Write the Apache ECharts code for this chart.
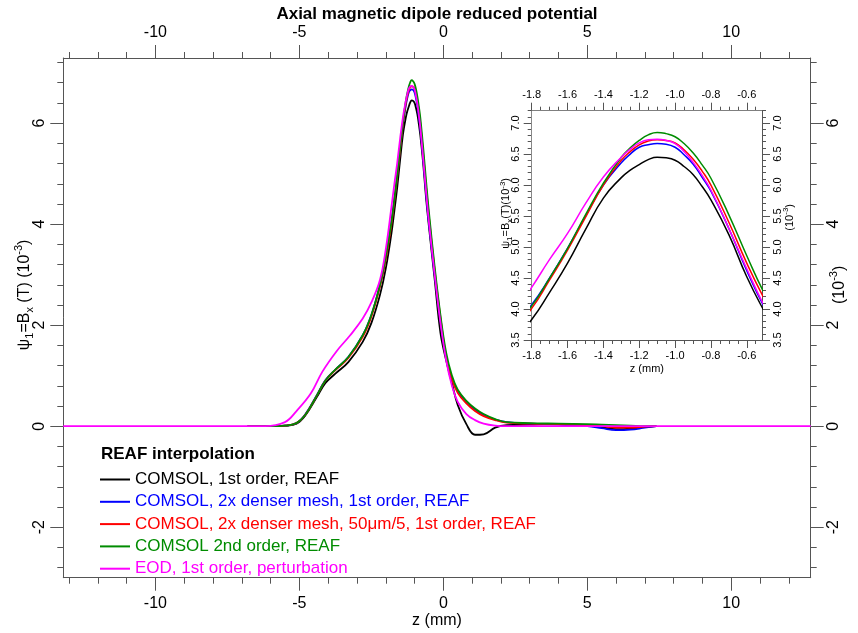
<!DOCTYPE html>
<html><head><meta charset="utf-8">
<script src="https://cdn.jsdelivr.net/npm/echarts@6/dist/echarts.min.js"></script>
<style>html,body{margin:0;padding:0;background:#fff}#c{width:858px;height:633px}</style>
</head><body><div id="c"></div>
<script>
// ---- data (z in mm, psi1 in 1e-3 T) ----
const zComsol = [-6.8,-6.0,-5.5,-5.1,-4.8,-4.4,-4.1,-3.75,-3.3,-2.8,-2.5,-2.2,-2.0,-1.8,-1.7,-1.6,-1.5,-1.4,-1.3,-1.25,-1.2,-1.15,-1.1,-1.05,-1.0,-0.95,-0.9,-0.85,-0.8,-0.7,-0.6,-0.5,-0.3,-0.1,0.1,0.3,0.5,0.8,1.1,1.4,1.8,2.2,3.0,4.0,5.0,5.5,6.0,6.5,7.0,7.4];
const yComsol1st = [0,0,0.01,0.05,0.21,0.57,0.85,1.04,1.27,1.67,2.04,2.6,3.12,3.83,4.27,4.74,5.28,5.79,6.12,6.24,6.33,6.41,6.45,6.44,6.40,6.30,6.17,5.98,5.76,5.2,4.52,3.95,2.9,1.85,1.3,0.85,0.42,0.04,-0.17,-0.16,-0.03,0.02,0.03,0.04,0.02,-0.02,-0.06,-0.05,-0.02,0];
const yDenser1st = [0,0,0.01,0.06,0.23,0.61,0.91,1.12,1.37,1.8,2.2,2.8,3.35,4.07,4.5,4.98,5.5,6.0,6.36,6.5,6.61,6.65,6.67,6.66,6.61,6.49,6.34,6.13,5.9,5.3,4.62,4.02,3.0,2.1,1.35,0.95,0.7,0.48,0.33,0.22,0.13,0.08,0.05,0.03,0.0,-0.04,-0.08,-0.07,-0.03,0];
const yDenser50 = [0,0,0.01,0.06,0.22,0.6,0.9,1.11,1.35,1.77,2.17,2.77,3.3,4.01,4.47,4.95,5.48,6.0,6.4,6.54,6.65,6.71,6.73,6.72,6.68,6.57,6.42,6.23,6.0,5.4,4.74,4.15,3.08,2.15,1.38,0.93,0.66,0.45,0.3,0.2,0.12,0.07,0.05,0.04,0.02,0,-0.03,-0.03,-0.01,0];
const yComsol2nd = [0,0,0.01,0.06,0.22,0.6,0.9,1.12,1.37,1.8,2.2,2.8,3.35,4.05,4.5,4.98,5.52,6.03,6.45,6.60,6.72,6.81,6.85,6.83,6.78,6.67,6.52,6.33,6.11,5.52,4.86,4.24,3.15,2.2,1.45,1.0,0.72,0.5,0.35,0.24,0.14,0.08,0.06,0.05,0.04,0.03,0.02,0.01,0,0];
const zEod = [-13.2,-8.0,-6.2,-5.5,-5.1,-4.6,-4.2,-3.7,-3.25,-2.8,-2.5,-2.2,-2.0,-1.8,-1.7,-1.6,-1.5,-1.4,-1.3,-1.25,-1.2,-1.15,-1.1,-1.05,-1.0,-0.95,-0.9,-0.85,-0.8,-0.7,-0.6,-0.5,-0.3,-0.1,0.1,0.3,0.5,0.8,1.1,1.4,1.8,2.2,4.0,12.76];
const yEod = [0,0,0,0.08,0.3,0.65,1.08,1.49,1.79,2.13,2.45,2.9,3.5,4.35,4.8,5.22,5.7,6.13,6.45,6.58,6.68,6.73,6.74,6.72,6.67,6.54,6.37,6.16,5.92,5.3,4.65,4.04,3.0,2.05,1.3,0.8,0.48,0.24,0.12,0.05,0.01,0,0,0];

const seriesNames = ['COMSOL, 1st order, REAF','COMSOL, 2x denser mesh, 1st order, REAF','COMSOL, 2x denser mesh, 50\u03bcm/5, 1st order, REAF','COMSOL 2nd order, REAF','EOD, 1st order, perturbation'];
const seriesColors = ['#000000','#0000ff','#ff0000','#008c00','#ff00ff'];

// ---- tick labels ----
const mainXMajor = [-10,-5,0,5,10];
const mainXMinor = [-13,-12,-11,-10,-9,-8,-7,-6,-5,-4,-3,-2,-1,0,1,2,3,4,5,6,7,8,9,10,11,12];
const mainYMajor = [-2,0,2,4,6];
const mainYMinor = [-2.8,-2.4,-2,-1.6,-1.2,-0.8,-0.4,0,0.4,0.8,1.2,1.6,2,2.4,2.8,3.2,3.6,4,4.4,4.8,5.2,5.6,6,6.4,6.8,7.2];
const insetXMajor = [-1.8,-1.6,-1.4,-1.2,-1.0,-0.8,-0.6];
const insetXMinor = [-1.8,-1.75,-1.7,-1.65,-1.6,-1.55,-1.5,-1.45,-1.4,-1.35,-1.3,-1.25,-1.2,-1.15,-1.1,-1.05,-1.0,-0.95,-0.9,-0.85,-0.8,-0.75,-0.7,-0.65,-0.6,-0.55];
const insetYMajor = [3.5,4.0,4.5,5.0,5.5,6.0,6.5,7.0];
const insetYMinor = [3.5,3.6,3.7,3.8,3.9,4.0,4.1,4.2,4.3,4.4,4.5,4.6,4.7,4.8,4.9,5.0,5.1,5.2,5.3,5.4,5.5,5.6,5.7,5.8,5.9,6.0,6.1,6.2,6.3,6.4,6.5,6.6,6.7,6.8,6.9,7.0,7.1,7.2];

const FONT = '"Liberation Sans", Arial, Helvetica, sans-serif';
const AXC = '#555555';
const MAIN = {xmin:-13.2, xmax:12.76, ymin:-3.0, ymax:7.29};
const INS = {xmin:-1.8, xmax:-0.515, ymin:3.5, ymax:7.2};

function axis(o) {
  const a = {
    type:'value', gridIndex:o.grid, position:o.pos, min:o.min, max:o.max,
    axisLine:{show:!!o.line, onZero:false, lineStyle:{color:AXC, width:1}},
    axisTick:{show:true, customValues:o.ticks, length:o.len, lineStyle:{color:AXC, width:1}},
    axisLabel:{show:!!o.labels},
    splitLine:{show:false}, minorTick:{show:false}, minorSplitLine:{show:false}
  };
  if (o.labels) {
    a.axisLabel = {show:true, customValues:o.labels, fontSize:o.fs, margin:o.margin, color:'#000',
      fontFamily:FONT, rotate:o.rotate||0, formatter:o.fmt};
  }
  if (o.name) {
    a.name = o.name; a.nameLocation = 'middle'; a.nameGap = o.nameGap; a.nameMoveOverlap = false;
    if (o.nameRotate !== undefined) a.nameRotate = o.nameRotate;
    a.nameTextStyle = Object.assign({fontFamily:FONT, color:'#000'}, o.nameStyle);
  }
  return a;
}
const f1 = v => Number(v).toFixed(1);
const richBig = {
  a:{fontSize:16, lineHeight:22, fontFamily:FONT, color:'#000'},
  s:{fontSize:11, lineHeight:12, fontFamily:FONT, color:'#000', verticalAlign:'bottom'},
  p:{fontSize:11, lineHeight:12, fontFamily:FONT, color:'#000', verticalAlign:'top'}
};
const richSmall = {
  a:{fontSize:11, lineHeight:15, fontFamily:FONT, color:'#000'},
  s:{fontSize:8, lineHeight:9, fontFamily:FONT, color:'#000', verticalAlign:'bottom'},
  p:{fontSize:8, lineHeight:9, fontFamily:FONT, color:'#000', verticalAlign:'top'}
};

const xAxes = [
  axis({grid:0,pos:'bottom',min:MAIN.xmin,max:MAIN.xmax,line:true,ticks:mainXMajor,len:13,labels:mainXMajor,fs:16,margin:18,
        name:'z (mm)',nameGap:35,nameStyle:{fontSize:16}}),
  axis({grid:0,pos:'bottom',min:MAIN.xmin,max:MAIN.xmax,ticks:mainXMinor,len:6}),
  axis({grid:0,pos:'top',min:MAIN.xmin,max:MAIN.xmax,line:true,ticks:mainXMajor,len:13,labels:mainXMajor,fs:16,margin:17,
        name:'Axial magnetic dipole reduced potential',nameGap:35,nameStyle:{fontSize:17,fontWeight:'bold'}}),
  axis({grid:0,pos:'top',min:MAIN.xmin,max:MAIN.xmax,ticks:mainXMinor,len:6}),
  axis({grid:1,pos:'bottom',min:INS.xmin,max:INS.xmax,line:true,ticks:insetXMajor,len:8,labels:insetXMajor,fs:11,margin:10,fmt:f1,
        name:'z (mm)',nameGap:23,nameStyle:{fontSize:11}}),
  axis({grid:1,pos:'bottom',min:INS.xmin,max:INS.xmax,ticks:insetXMinor,len:4}),
  axis({grid:1,pos:'top',min:INS.xmin,max:INS.xmax,line:true,ticks:insetXMajor,len:8,labels:insetXMajor,fs:11,margin:10,fmt:f1}),
  axis({grid:1,pos:'top',min:INS.xmin,max:INS.xmax,ticks:insetXMinor,len:4})
];
const yAxes = [
  axis({grid:0,pos:'left',min:MAIN.ymin,max:MAIN.ymax,line:true,ticks:mainYMajor,len:13,labels:mainYMajor,fs:16,margin:16,rotate:90,
        name:'{a|\u03c8}{s|1}{a|=B}{s|x}{a| (T) (10}{p|-3}{a|)}',nameGap:28,nameRotate:90,
        nameStyle:{rich:richBig,padding:[0,0,0,46]}}),
  axis({grid:0,pos:'left',min:MAIN.ymin,max:MAIN.ymax,ticks:mainYMinor,len:6}),
  axis({grid:0,pos:'right',min:MAIN.ymin,max:MAIN.ymax,line:true,ticks:mainYMajor,len:13,labels:mainYMajor,fs:16,margin:15,rotate:90,
        name:'{a|(10}{p|-3}{a|)}',nameGap:18,nameRotate:90,nameStyle:{rich:richBig,padding:[0,0,0,66]}}),
  axis({grid:0,pos:'right',min:MAIN.ymin,max:MAIN.ymax,ticks:mainYMinor,len:6}),
  axis({grid:1,pos:'left',min:INS.ymin,max:INS.ymax,line:true,ticks:insetYMajor,len:8,labels:insetYMajor,fs:11,margin:10,rotate:90,fmt:f1,
        name:'{a|\u03c8}{s|1}{a|=B}{s|x}{a|(T)(10}{p|-3}{a|)}',nameGap:18,nameRotate:90,nameStyle:{rich:richSmall,padding:[0,0,0,24]}}),
  axis({grid:1,pos:'left',min:INS.ymin,max:INS.ymax,ticks:insetYMinor,len:4}),
  axis({grid:1,pos:'right',min:INS.ymin,max:INS.ymax,line:true,ticks:insetYMajor,len:8,labels:insetYMajor,fs:11,margin:10,rotate:90,fmt:f1,
        name:'{a|(10}{p|-3}{a|)}',nameGap:20,nameRotate:90,nameStyle:{rich:richSmall,padding:[0,0,0,16]}}),
  axis({grid:1,pos:'right',min:INS.ymin,max:INS.ymax,ticks:insetYMinor,len:4})
];

const curves = [
  {z:zComsol, y:yComsol1st},
  {z:zComsol, y:yDenser1st},
  {z:zComsol, y:yDenser50},
  {z:zComsol, y:yComsol2nd},
  {z:zEod, y:yEod}
];
const series = [];
curves.forEach((c, i) => {
  const pts = c.z.map((z, k) => [z, c.y[k]]);
  series.push({type:'line', name:seriesNames[i], data:pts, xAxisIndex:0, yAxisIndex:0,
    symbol:'none', showSymbol:false, smooth:0.4, animation:false, z:2+i,
    lineStyle:{width:1.8, color:seriesColors[i]}, itemStyle:{color:seriesColors[i]}});
});
curves.forEach((c, i) => {
  const pts = c.z.map((z, k) => [z, c.y[k]]);
  series.push({type:'line', name:seriesNames[i], data:pts, xAxisIndex:4, yAxisIndex:4, clip:true,
    symbol:'none', showSymbol:false, smooth:0.5, animation:false, z:20+i,
    lineStyle:{width:1.5, color:seriesColors[i]}, itemStyle:{color:seriesColors[i]}});
});

const chart = echarts.init(document.getElementById('c'), null, {renderer:'canvas'});
chart.setOption({
  backgroundColor:'#ffffff',
  animation:false,
  textStyle:{fontFamily:FONT},
  title:[{text:'REAF interpolation', left:101, top:446, padding:0,
    textStyle:{fontSize:17, fontWeight:'bold', fontFamily:FONT, color:'#000'}}],
  legend:{orient:'vertical', left:100, top:471, padding:0, itemWidth:30, itemHeight:2, itemGap:5.3, icon:'rect',
    selectedMode:false,
    textStyle:{fontSize:17, lineHeight:17, fontFamily:FONT},
    data:seriesNames.map((n, i) => ({name:n, textStyle:{color:seriesColors[i]}}))},
  grid:[
    {left:63.3, right:47.3, top:58, bottom:55.3, containLabel:false, outerBoundsMode:'none'},
    {left:531.7, right:96, top:110.7, bottom:293, containLabel:false, outerBoundsMode:'none',
     show:true, backgroundColor:'#ffffff', borderWidth:0, z:10}
  ],
  xAxis:xAxes,
  yAxis:yAxes,
  series:series
});
</script></body></html>
